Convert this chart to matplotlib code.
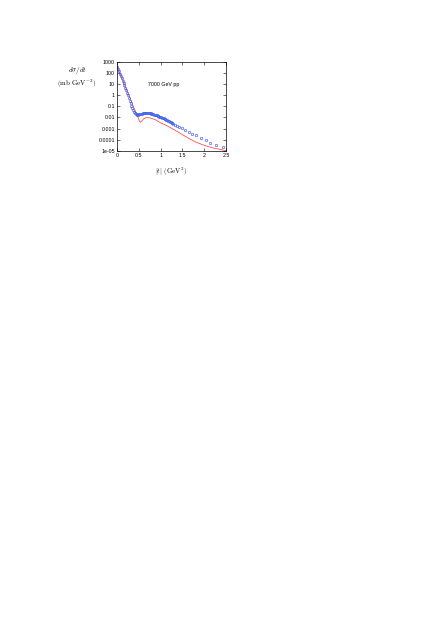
import matplotlib
matplotlib.use("Agg")
import matplotlib.pyplot as plt

plt.rcParams['font.family'] = ['Liberation Sans', 'DejaVu Sans']
plt.rcParams['mathtext.fontset'] = 'cm'

# data points (blue)
t_data = [0.01, 0.03, 0.05, 0.07, 0.09, 0.11, 0.13, 0.15, 0.17, 0.19, 0.21, 0.23,
          0.25, 0.27, 0.29, 0.31, 0.33, 0.35, 0.37, 0.39, 0.41, 0.43,
          0.45, 0.47, 0.49, 0.51, 0.53, 0.55, 0.57, 0.59, 0.61, 0.63, 0.65, 0.67,
          0.69, 0.71, 0.73, 0.75, 0.77, 0.79, 0.81, 0.83, 0.85, 0.87, 0.89, 0.91,
          0.93, 0.95, 0.97, 0.99, 1.01, 1.03, 1.05, 1.07, 1.09, 1.11, 1.13, 1.15,
          1.17, 1.19, 1.21, 1.23, 1.25, 1.27, 1.29,
          1.33, 1.37, 1.42, 1.48, 1.56, 1.64, 1.73, 1.82, 1.92, 2.03, 2.14, 2.27, 2.42]
dsdt_data = [330, 210, 130, 80, 50, 31, 19, 12, 7.3, 4.5, 2.7, 1.6,
             0.95, 0.55, 0.32, 0.19, 0.11, 0.066, 0.045, 0.033, 0.026, 0.022,
             0.019, 0.018, 0.018, 0.019, 0.020, 0.021, 0.022, 0.023, 0.024, 0.025, 0.026, 0.026,
             0.026, 0.026, 0.025, 0.024, 0.023, 0.022, 0.021, 0.020, 0.018, 0.017, 0.016, 0.015,
             0.014, 0.013, 0.012, 0.011, 0.0105, 0.0096, 0.0088, 0.0081, 0.0074, 0.0067, 0.0061, 0.0056,
             0.0051, 0.0046, 0.0042, 0.0038, 0.0034, 0.0031, 0.0028,
             0.0023, 0.0019, 0.0015, 0.0011, 0.00075, 0.00052, 0.00036, 0.00025, 0.00016, 9e-5, 5.5e-5, 3.5e-5, 2.2e-5]

# model curve (red)
t_model = [0.0, 0.05, 0.10, 0.15, 0.20, 0.25, 0.30, 0.35, 0.40, 0.45, 0.48, 0.51,
           0.54, 0.57, 0.61, 0.66, 0.72, 0.80, 0.90, 1.00, 1.10, 1.20, 1.40, 1.60,
           1.80, 2.00, 2.20, 2.40, 2.50]
dsdt_model = [400, 130, 44, 14, 4.7, 1.55, 0.5, 0.17, 0.056, 0.022, 0.011, 0.005,
              0.0037, 0.0048, 0.0075, 0.0093, 0.0096, 0.0082, 0.0057, 0.0033, 0.0022, 0.0014, 5e-4, 1.7e-4,
              6.5e-5, 3.2e-5, 1.9e-5, 1.3e-5, 1.05e-5]

yticks = [1e3, 1e2, 1e1, 1, 0.1, 0.01, 0.001, 0.0001, 1e-5]
ytick_labels = ['1000', '100', '10', '1', '0.1', '0.01', '0.001', '0.0001', '1e-05']
xticks = [0, 0.5, 1, 1.5, 2, 2.5]
xtick_labels = ['0', '0.5', '1', '1.5', '2', '2.5']

fig = plt.figure(figsize=(4.45, 6.28), dpi=100)
ax = fig.add_axes([117/445, 1-151/628, 109/445, 89.5/628])

ax.plot(t_model, dsdt_model, color='#ff3030', lw=0.5)
ax.plot(t_data, dsdt_data, ls='none', marker='s', ms=1.4, mfc='none',
        mec='#3a5ee8', mew=0.45)

ax.set_yscale('log')
ax.set_xlim(0, 2.5)
ax.set_ylim(1e-5, 1e3)
ax.set_yticks(yticks)
ax.set_yticklabels(ytick_labels)
ax.set_xticks(xticks)
ax.set_xticklabels(xtick_labels)
ax.minorticks_off()
ax.tick_params(direction='in', length=2, width=0.4, labelsize=3.8, pad=1.5,
               top=True, right=True)
for s in ax.spines.values():
    s.set_linewidth(0.5)

ax.text(0.284, 0.745, '7000 GeV pp', transform=ax.transAxes, fontsize=3.8,
        ha='left', va='center')

fig.text(77/445, 1-70/628, r'$d\sigma/dt$', fontsize=5, ha='center', va='center')
fig.text(77/445, 1-83.5/628, r'$(\mathrm{mb\ GeV}^{-2})$', fontsize=5, ha='center', va='center')
fig.text(171.5/445, 1-171.7/628, r'$|t|\ (\mathrm{GeV}^2)$', fontsize=5, ha='center', va='center')

fig.savefig('out.png', dpi=100)
